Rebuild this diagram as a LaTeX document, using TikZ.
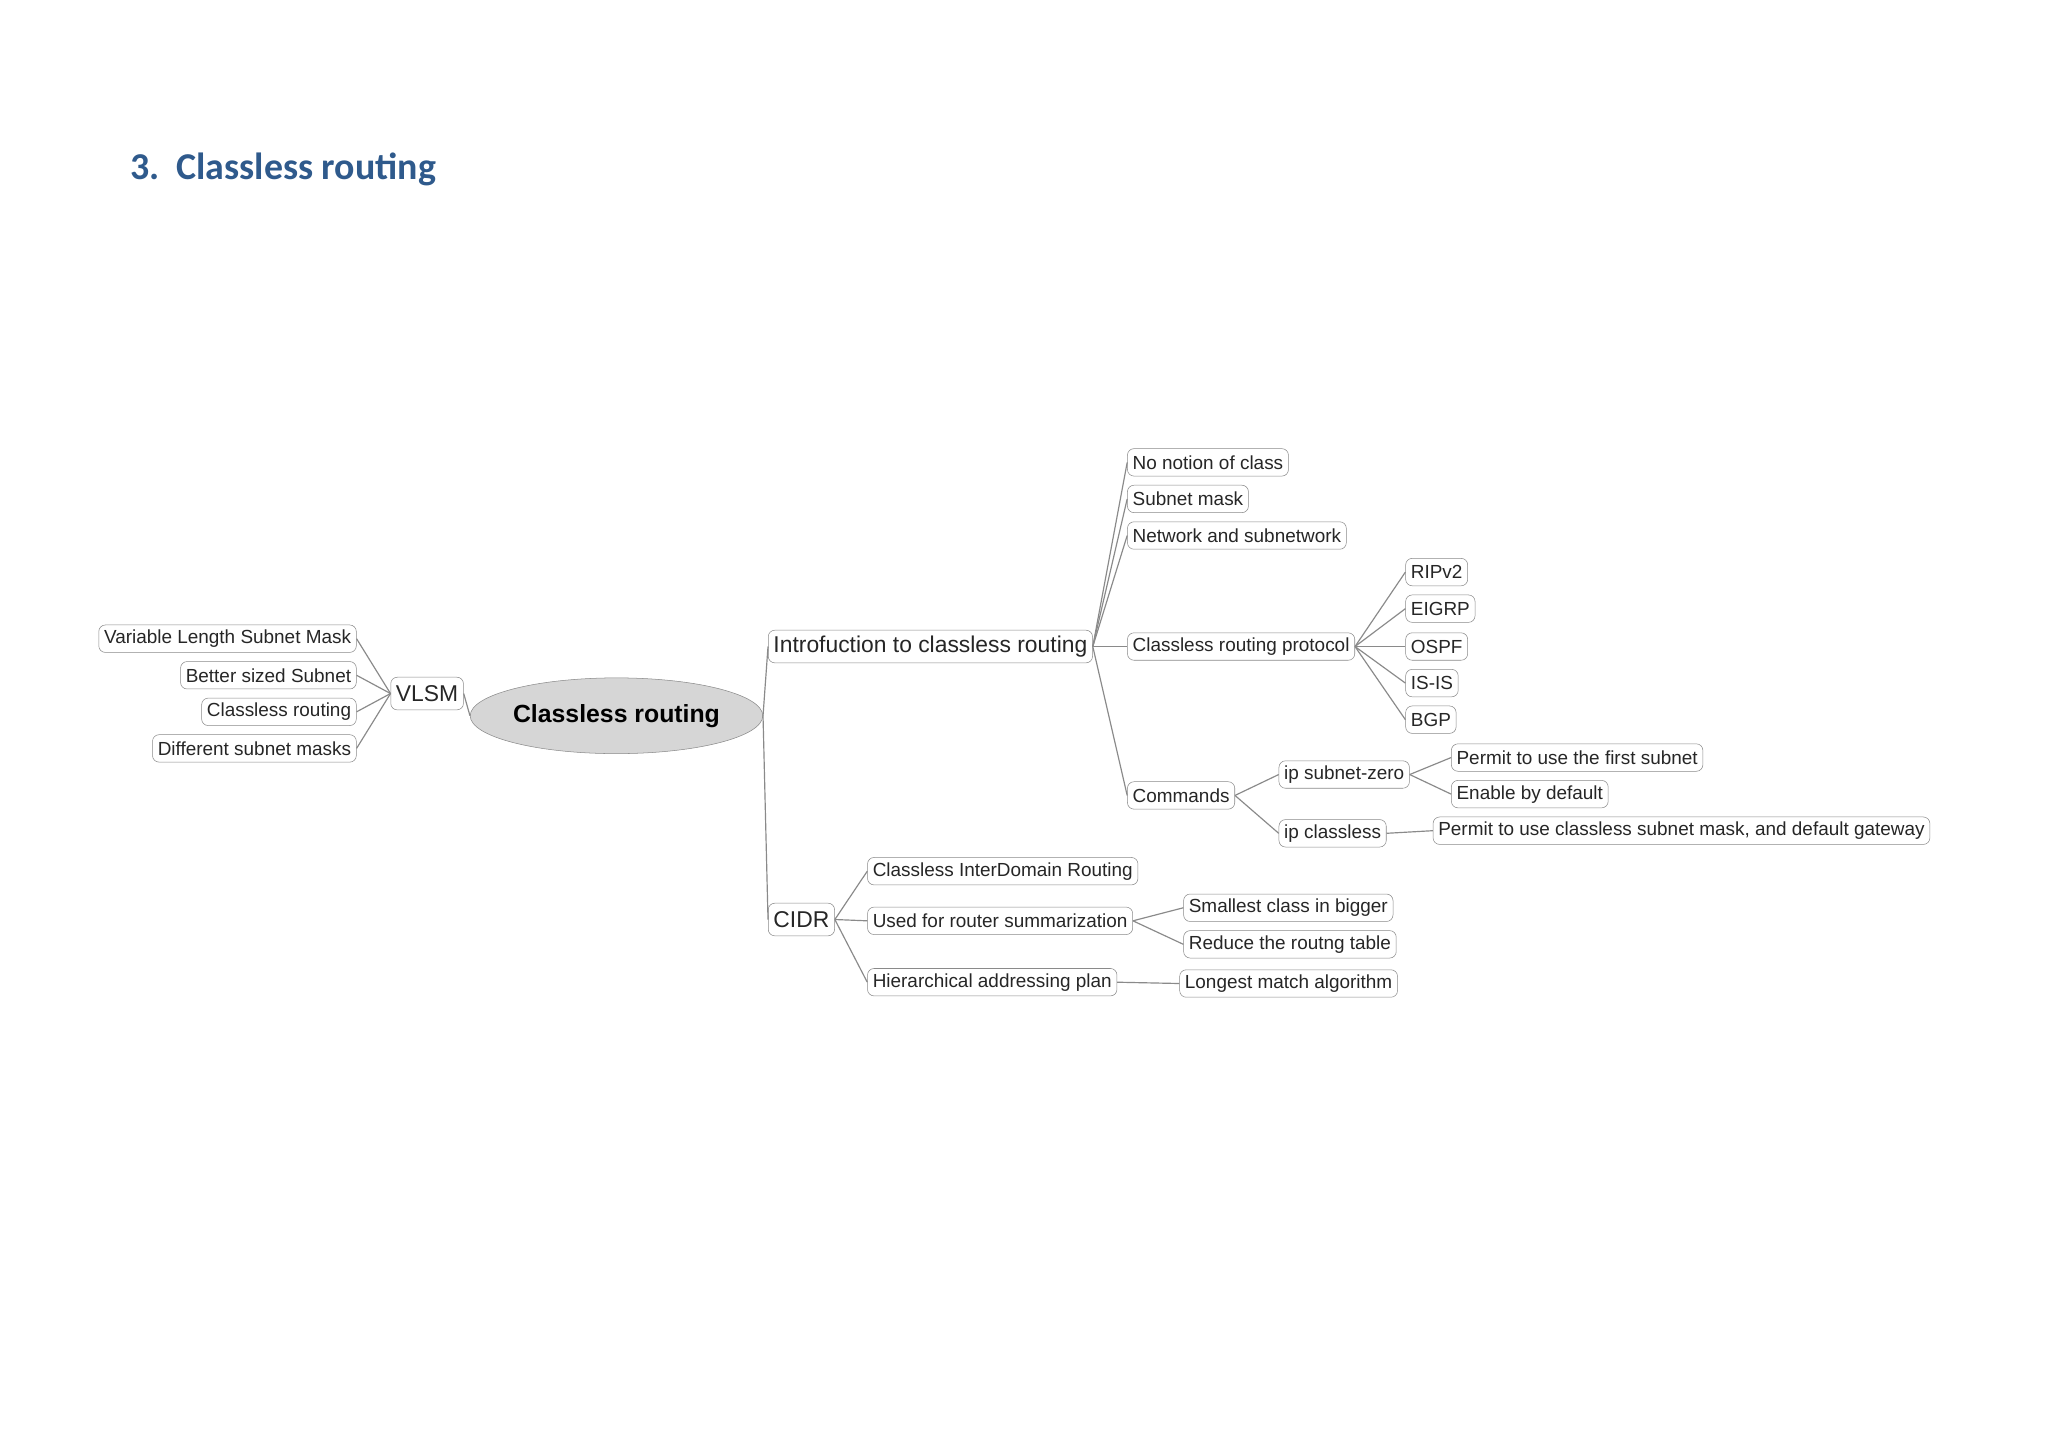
\documentclass[tikz,border=0pt]{standalone}
\usepackage{fontspec}
\usetikzlibrary{shapes.geometric}
\setmainfont{Liberation Sans}
\newfontfamily\titlefont{Carlito}
\definecolor{titleblue}{HTML}{2F5A8C}
\definecolor{edge}{HTML}{8A8A8A}
\begin{document}
\begin{tikzpicture}[x=1pt,y=-1pt,
  box/.style={draw=edge,rounded corners=5pt,inner xsep=4pt,inner ysep=2.5pt,font=\fontsize{14.5}{17}\selectfont,text=black!85,minimum height=21pt},
  bigbox/.style={box,font=\fontsize{17.5}{20}\selectfont,minimum height=25pt},
  conn/.style={draw=edge,line width=0.9pt}]
\fill[white] (0,0) rectangle (1568,1107);
\useasboundingbox (0,0) rectangle (1568,1107);
\node[anchor=west,text=titleblue,font=\titlefont\bfseries\fontsize{29}{33}\selectfont] (title) at (96,130) {3.\ \ Classless routing};
\node[ellipse,draw=edge,fill=black!16,minimum width=182pt,minimum height=58pt,inner sep=0pt,font=\bfseries\fontsize{19}{22}\selectfont] (root) at (472,548) {Classless routing};
\node[bigbox] (vlsm) at (327,531) {VLSM};
\node[box,anchor=east] (l1) at (273,489) {Variable Length Subnet Mask};
\node[box,anchor=east] (l2) at (273,517) {Better sized Subnet};
\node[box,anchor=east] (l3) at (273,545) {Classless routing};
\node[box,anchor=east] (l4) at (273,573) {Different subnet masks};
\node[bigbox,anchor=west] (intro) at (588,495) {Introfuction to classless routing};
\node[bigbox,anchor=west] (cidr) at (588,704) {CIDR};
\node[box,anchor=west] (i1) at (863,354) {No notion of class};
\node[box,anchor=west] (i2) at (863,382) {Subnet mask};
\node[box,anchor=west] (i3) at (863,410) {Network and subnetwork};
\node[box,anchor=west] (proto) at (863,495) {Classless routing protocol};
\node[box,anchor=west] (cmd) at (863,609) {Commands};
\node[box,anchor=west] (p1) at (1076,438) {RIPv2};
\node[box,anchor=west] (p2) at (1076,466) {EIGRP};
\node[box,anchor=west] (p3) at (1076,495) {OSPF};
\node[box,anchor=west] (p4) at (1076,523) {IS-IS};
\node[box,anchor=west] (p5) at (1076,551) {BGP};
\node[box,anchor=west] (sz) at (979,593) {ip subnet-zero};
\node[box,anchor=west] (cl) at (979,638) {ip classless};
\node[box,anchor=west] (sz1) at (1111,580) {Permit to use the first subnet};
\node[box,anchor=west] (sz2) at (1111,608) {Enable by default};
\node[box,anchor=west] (cl1) at (1097,636) {Permit to use classless subnet mask, and default gateway};
\node[box,anchor=west] (c1) at (664,667) {Classless InterDomain Routing};
\node[box,anchor=west] (c2) at (664,705) {Used for router summarization};
\node[box,anchor=west] (c3) at (664,752) {Hierarchical addressing plan};
\node[box,anchor=west] (c21) at (906,695) {Smallest class in bigger};
\node[box,anchor=west] (c22) at (906,723) {Reduce the routng table};
\node[box,anchor=west] (c31) at (903,753) {Longest match algorithm};
\foreach \a/\b in {vlsm/l1,vlsm/l2,vlsm/l3,vlsm/l4,root/vlsm}
  \draw[conn] (\a.west) -- (\b.east);
\foreach \a/\b in {root/intro,root/cidr,intro/i1,intro/i2,intro/i3,intro/proto,intro/cmd,
  proto/p1,proto/p2,proto/p3,proto/p4,proto/p5,cmd/sz,cmd/cl,sz/sz1,sz/sz2,cl/cl1,
  cidr/c1,cidr/c2,cidr/c3,c2/c21,c2/c22,c3/c31}
  \draw[conn] (\a.east) -- (\b.west);
\end{tikzpicture}
\end{document}
